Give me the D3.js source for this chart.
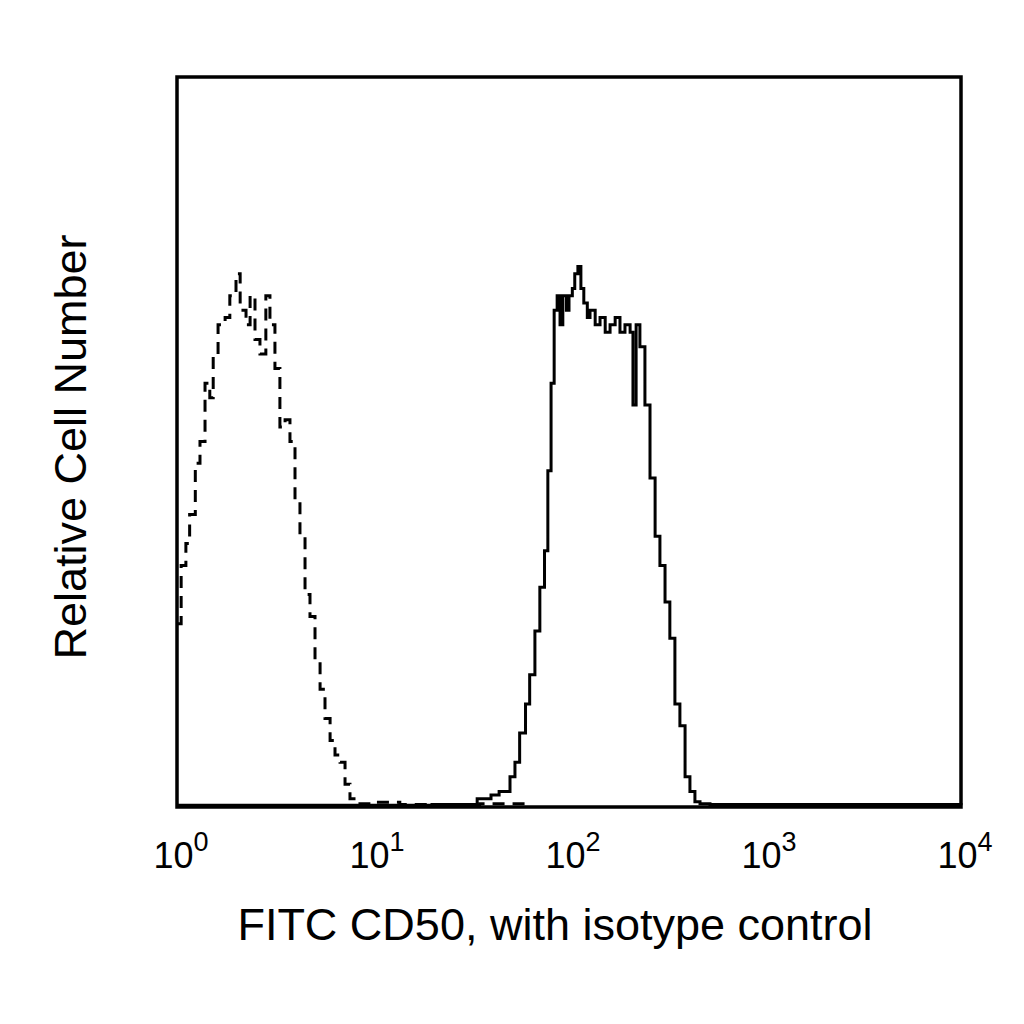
<!DOCTYPE html>
<html lang="en">
<head>
<meta charset="utf-8">
<title>FITC CD50 histogram</title>
<script src="https://cdn.jsdelivr.net/npm/d3@7"></script>
<style>
  body { margin: 0; background: #fff; }
  text { font-family: "Liberation Sans", Arial, sans-serif; fill: #000; }
</style>
</head>
<body>
<script>
// stained sample (solid line): intensity, relative count
let solidX = [1, 20, 34, 40, 44, 50, 53, 56, 60, 63, 67, 71, 75, 78, 81, 84, 87, 90, 93, 97, 100, 104, 107, 111, 115, 119, 124, 128, 136, 144, 153, 162, 172, 182, 193, 205, 212, 220, 230, 244, 259, 275, 291, 309, 327, 347, 368, 391, 414, 439, 466, 524, 662, 10000];
let solidY = [0.1, 0.2, 1, 1.5, 2, 4, 6, 10, 14, 18, 24, 30, 35, 46, 58, 68, 70, 66, 70, 68, 70, 71, 73, 74, 71, 69, 67, 68, 66, 67, 65, 66, 67, 65, 66, 65, 55, 66, 63, 55, 45, 37, 33, 28, 23, 14, 11, 4, 2, 0.6, 0.3, 0.2, 0.2, 0.1];
// isotype control (dashed line)
let isoX = [1, 1.05, 1.11, 1.16, 1.24, 1.31, 1.39, 1.47, 1.53, 1.62, 1.76, 1.86, 2.0, 2.10, 2.25, 2.36, 2.50, 2.65, 2.84, 2.98, 3.16, 3.35, 3.56, 3.77, 4.0, 4.24, 4.5, 4.77, 5.06, 5.37, 5.69, 6.04, 6.4, 6.79, 7.2, 7.63, 8.58, 10.2, 13.7, 24.7, 35, 60];
let isoY = [25, 33, 36, 40, 47, 50, 58, 56, 62, 66, 67, 70, 73, 68, 66, 70, 64, 62, 70, 66, 60, 52, 53, 50, 42, 37, 29, 26, 20, 16, 12, 9, 7, 6, 3, 1, 0.3, 0.5, 0.2, 0.1, 0.3, 0];
let tickExp = ["0", "1", "2", "3", "4"];
let tickVals = [1, 10, 100, 1000, 10000];

let W = 1024, H = 1024;
let mLeft = 177, mRight = 961, mTop = 77, mBottom = 807;

let svg = d3.select("body").append("svg").attr("width", W).attr("height", H);

let x = d3.scaleLog().domain([1, 10000]).range([mLeft, mRight]);
let y = d3.scaleLinear().domain([0, 100]).range([mBottom - 1, mTop]);

let line = d3.line()
  .x(d => x(d[0]))
  .y(d => y(d[1]))
  .curve(d3.curveStepAfter);

let iso = isoX.map((v, i) => [v, isoY[i]]);
let solid = solidX.map((v, i) => [v, solidY[i]]);

svg.append("path")
  .datum(iso)
  .attr("d", line)
  .attr("fill", "none")
  .attr("stroke", "#000")
  .attr("stroke-width", 3)
  .attr("stroke-dasharray", "12,8");

svg.append("path")
  .datum(solid)
  .attr("d", line)
  .attr("fill", "none")
  .attr("stroke", "#000")
  .attr("stroke-width", 3);

// frame
svg.append("rect")
  .attr("x", mLeft).attr("y", mTop)
  .attr("width", mRight - mLeft).attr("height", mBottom - mTop)
  .attr("fill", "none").attr("stroke", "#000").attr("stroke-width", 3.5);

// tick labels 10^n
let tl = svg.selectAll(".tick").data(tickVals).enter().append("text")
  .attr("x", d => x(d) + 4)
  .attr("y", 868)
  .attr("text-anchor", "middle")
  .attr("font-size", 36);
tl.append("tspan").text("10");
tl.append("tspan").text((d, i) => tickExp[i]).attr("dy", -17).attr("font-size", 27);

svg.append("text")
  .attr("x", 555).attr("y", 940)
  .attr("text-anchor", "middle")
  .attr("font-size", 45)
  .text("FITC CD50, with isotype control");

svg.append("text")
  .attr("transform", "translate(86,447) rotate(-90)")
  .attr("text-anchor", "middle")
  .attr("font-size", 45)
  .text("Relative Cell Number");
</script>
</body>
</html>
